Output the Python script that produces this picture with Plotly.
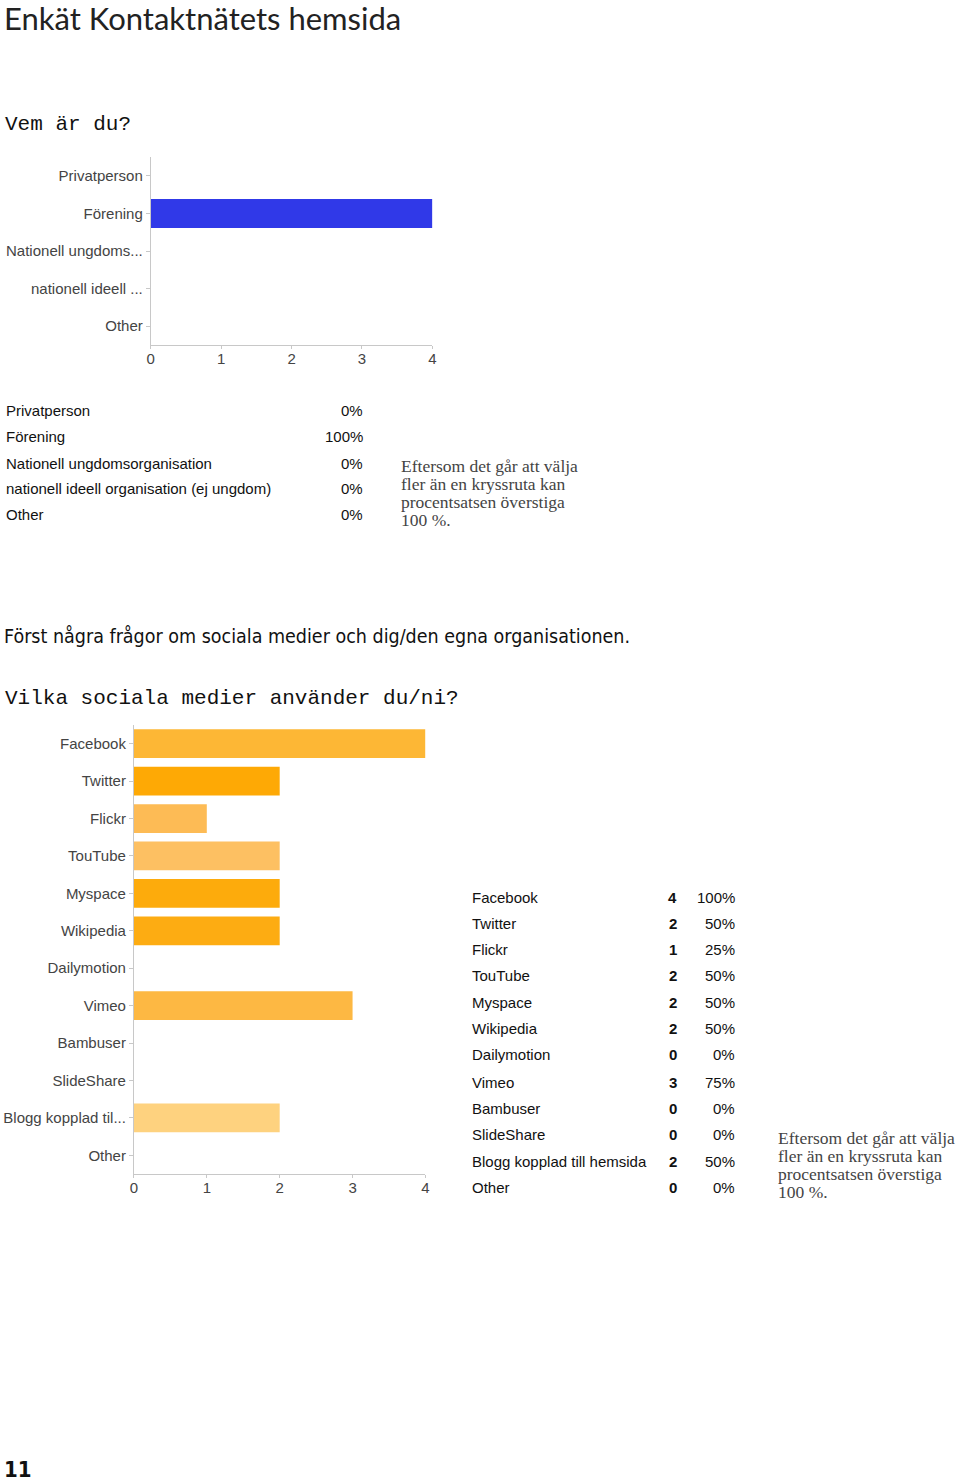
import plotly.graph_objects as go

W, H = 960, 1482

# ---------- data ----------
q1_categories = ["Privatperson", "Förening", "Nationell ungdoms...", "nationell ideell ...", "Other"]
q1_values = [0, 4, 0, 0, 0]
q1_table_labels = ["Privatperson", "Förening", "Nationell ungdomsorganisation",
                   "nationell ideell organisation (ej ungdom)", "Other"]
q1_table_pct = ["0%", "100%", "0%", "0%", "0%"]

q2_categories = ["Facebook", "Twitter", "Flickr", "TouTube", "Myspace", "Wikipedia",
                 "Dailymotion", "Vimeo", "Bambuser", "SlideShare", "Blogg kopplad til...", "Other"]
q2_values = [4, 2, 1, 2, 2, 2, 0, 3, 0, 0, 2, 0]
q2_colors = ["#FDB735", "#FEA905", "#FDBB55", "#FDC062", "#FDAB0C", "#FDAC12",
             "#FDB843", "#FDB843", "#FDB843", "#FDB843", "#FED27F", "#FDB843"]
q2_table_labels = ["Facebook", "Twitter", "Flickr", "TouTube", "Myspace", "Wikipedia",
                   "Dailymotion", "Vimeo", "Bambuser", "SlideShare", "Blogg kopplad till hemsida", "Other"]
q2_table_counts = ["4", "2", "1", "2", "2", "2", "0", "3", "0", "0", "2", "0"]
q2_table_pct = ["100%", "50%", "25%", "50%", "50%", "50%", "0%", "75%", "0%", "0%", "50%", "0%"]

x_ticks = [0, 1, 2, 3, 4]

title_text = "Enkät Kontaktnätets hemsida"
q1_question = "Vem är du?"
section_heading = "Först några frågor om sociala medier och dig/den egna organisationen."
q2_question = "Vilka sociala medier använder du/ni?"
note_lines = ["Eftersom det går att välja", "fler än en kryssruta kan",
              "procentsatsen överstiga", "100 %."]
page_number = "11"

# ---------- helpers ----------
def px(x):
    return x / W

def py(y):
    return 1 - y / H

SANS = "Liberation Sans, Arial, Helvetica, sans-serif"
MONO = "Liberation Mono, DejaVu Sans Mono, monospace"
SERIF = "Liberation Serif, Times New Roman, serif"
NARROW = "Liberation Sans Narrow, DejaVu Sans Condensed, Arial Narrow, sans-serif"

fig = go.Figure()

fig.add_trace(go.Bar(
    x=q1_values, y=q1_categories, orientation="h",
    marker=dict(color="#3039E8", line=dict(width=0)),
    xaxis="x", yaxis="y", showlegend=False, hoverinfo="x+y",
))
fig.add_trace(go.Bar(
    x=q2_values, y=q2_categories, orientation="h",
    marker=dict(color=q2_colors, line=dict(width=0)),
    xaxis="x2", yaxis="y2", showlegend=False, hoverinfo="x+y",
))

axis_common = dict(
    showgrid=False, zeroline=False, showline=True, linecolor="#C8C8C8", linewidth=1,
    ticks="outside", tickcolor="#C8C8C8",
    tickfont=dict(family=SANS, size=15, color="#444444"), fixedrange=True,
)
xaxis_style = dict(ticklen=3, ticklabelstandoff=-3, **axis_common)
yaxis_style = dict(ticklen=4, **axis_common)

fig.update_layout(
    width=W, height=H,
    margin=dict(l=0, r=0, t=0, b=0),
    paper_bgcolor="white", plot_bgcolor="white",
    bargap=0.23,
    xaxis=dict(domain=[px(148), px(432)], range=[0, 4], tickvals=x_ticks,
               anchor="y", **xaxis_style),
    yaxis=dict(domain=[py(345), py(157)], autorange="reversed", anchor="x",
               type="category", **yaxis_style),
    xaxis2=dict(domain=[px(131), px(425)], range=[0, 4], tickvals=x_ticks,
                anchor="y2", **xaxis_style),
    yaxis2=dict(domain=[py(1174), py(725)], autorange="reversed", anchor="x2",
                type="category", **yaxis_style),
)

ann = []

def text(x, y, s, family, size, color, xanchor="left", weight=None):
    f = dict(family=family, size=size, color=color)
    if weight:
        f["weight"] = weight
    ann.append(dict(x=px(x), y=py(y), xref="paper", yref="paper", text=s,
                    showarrow=False, xanchor=xanchor, yanchor="middle",
                    borderpad=0, borderwidth=0,
                    font=f, align="left"))

text(0, 18, title_text, "Lato, sans-serif", 31, "#222222")
text(1, 125, q1_question, MONO, 21, "#111111")
text(0, 636, section_heading, NARROW, 19.5, "#111111")
text(1, 698, q2_question, MONO, 21, "#111111")
text(0, 1469, page_number, NARROW, 22, "#111111", weight=700)

# table 1
q1_rows_y = [410, 436, 463, 489, 514]
for lab, pct, yy in zip(q1_table_labels, q1_table_pct, q1_rows_y):
    text(2, yy, lab, SANS, 15, "#111111")
    text(362, yy, pct, SANS, 15, "#111111", xanchor="right")

# table 2
q2_rows_y = [897, 923, 949, 975, 1002, 1028, 1054, 1082, 1108, 1134, 1161, 1187]
for lab, cnt, pct, yy in zip(q2_table_labels, q2_table_counts, q2_table_pct, q2_rows_y):
    text(472, yy, lab, SANS, 15, "#111111")
    text(679, yy, "<b>" + cnt + "</b>", SANS, 15, "#111111", xanchor="right")
    text(737, yy, pct, SANS, 15, "#111111", xanchor="right")

# notes
for i, line in enumerate(note_lines):
    text(400, 466 + 18 * i, line, SERIF, 17.5, "#444444")
    text(780, 1138 + 18 * i, line, SERIF, 17.5, "#444444")

fig.update_layout(annotations=ann)

fig.write_html("out.html", config={"displayModeBar": False},
               post_script="document.body.style.margin='0';")
